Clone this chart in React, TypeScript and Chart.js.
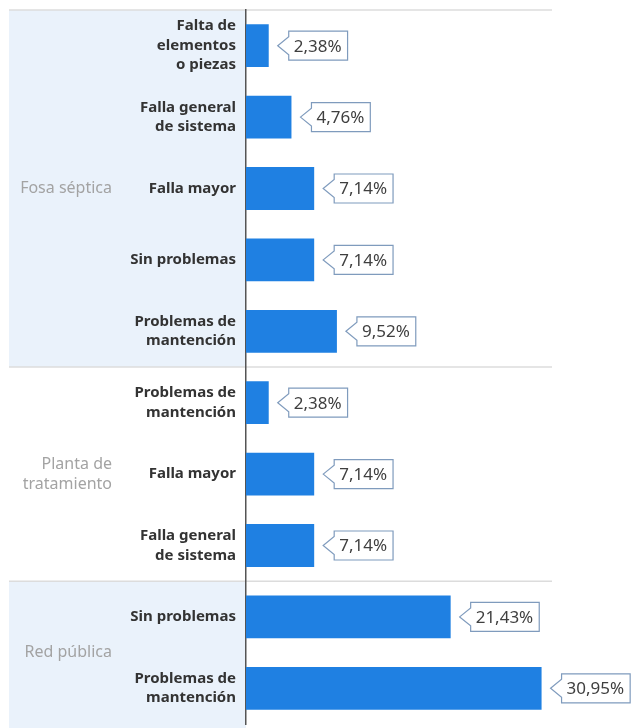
import React, { useEffect, useRef } from "react";
import { Chart, registerables } from "chart.js";

Chart.register(...registerables);

const categories: (string | string[])[] = [
  ["Falta de", "elementos", "o piezas"],
  ["Falla general", "de sistema"],
  "Falla mayor",
  "Sin problemas",
  ["Problemas de", "mantención"],
  ["Problemas de", "mantención"],
  "Falla mayor",
  ["Falla general", "de sistema"],
  "Sin problemas",
  ["Problemas de", "mantención"],
];
const values = [2.38, 4.76, 7.14, 7.14, 9.52, 2.38, 7.14, 7.14, 21.43, 30.95];
const groupNames = [["Fosa séptica"], ["Planta de", "tratamiento"], ["Red pública"]];
const groupSizes = [5, 3, 2];
const groupShaded = [true, false, true];

const FONT = "'Noto Sans', 'Open Sans', sans-serif";

const fmt = (v: number) => v.toFixed(2).replace(".", ",") + "%";

const decorPlugin = {
  id: "decor",
  beforeDraw(chart: any) {
    const ctx = chart.ctx;
    const y = chart.scales.y;
    const area = chart.chartArea;
    const step = y.getPixelForValue(1) - y.getPixelForValue(0);
    let start = 0;
    const bounds: number[] = [];
    ctx.save();
    groupSizes.forEach((n, gi) => {
      const top = y.getPixelForValue(start) - step / 2;
      const bottom = gi === groupSizes.length - 1 ? chart.height : y.getPixelForValue(start + n - 1) + step / 2;
      if (groupShaded[gi]) {
        ctx.fillStyle = "#eaf2fb";
        ctx.fillRect(9, top, area.left - 9, bottom - top);
      }
      bounds.push(top);
      start += n;
    });
    ctx.strokeStyle = "#dcdcdc";
    ctx.lineWidth = 1.5;
    bounds.forEach((b) => {
      ctx.beginPath();
      ctx.moveTo(9, b);
      ctx.lineTo(552, b);
      ctx.stroke();
    });
    ctx.restore();
  },
  afterDatasetsDraw(chart: any) {
    const ctx = chart.ctx;
    const y = chart.scales.y;
    const meta = chart.getDatasetMeta(0);
    const step = y.getPixelForValue(1) - y.getPixelForValue(0);
    ctx.save();
    // value callouts
    ctx.font = `17px ${FONT}`;
    ctx.textBaseline = "middle";
    ctx.textAlign = "left";
    meta.data.forEach((bar: any, i: number) => {
      const text = fmt(values[i]);
      const tip = bar.x + 9;
      const left = tip + 11;
      const w = ctx.measureText(text).width + 11;
      const h = 29;
      const cy = bar.y;
      const t = cy - h / 2;
      ctx.beginPath();
      ctx.moveTo(tip, cy);
      ctx.lineTo(left, cy - 9);
      ctx.lineTo(left, t);
      ctx.lineTo(left + w, t);
      ctx.lineTo(left + w, t + h);
      ctx.lineTo(left, t + h);
      ctx.lineTo(left, cy + 9);
      ctx.closePath();
      ctx.fillStyle = "#ffffff";
      ctx.fill();
      ctx.strokeStyle = "#7f9bbd";
      ctx.lineWidth = 1.2;
      ctx.stroke();
      ctx.fillStyle = "#3f3f3f";
      ctx.fillText(text, left + 5, cy + 1);
    });
    // group labels
    ctx.font = `16px ${FONT}`;
    ctx.fillStyle = "#a3a3a3";
    ctx.textAlign = "right";
    let start = 0;
    groupSizes.forEach((n, gi) => {
      const top = y.getPixelForValue(start) - step / 2;
      const bottom = y.getPixelForValue(start + n - 1) + step / 2;
      const cy = (top + bottom) / 2;
      const lines = groupNames[gi];
      const lh = 20;
      lines.forEach((ln, li) => {
        ctx.fillText(ln, 112, cy + (li - (lines.length - 1) / 2) * lh);
      });
      start += n;
    });
    ctx.restore();
  },
};

export default function App() {
  const ref = useRef<HTMLCanvasElement | null>(null);
  useEffect(() => {
    document.body.style.margin = "0";
    if (!ref.current) return;
    const chart = new Chart(ref.current, {
      type: "bar",
      data: {
        labels: categories as any,
        datasets: [
          {
            data: values,
            backgroundColor: "#1f80e2",
            barPercentage: 0.6,
            categoryPercentage: 1,
          },
        ],
      },
      options: {
        indexAxis: "y",
        animation: false,
        responsive: false,
        layout: { padding: { left: 0, right: 6, top: 10, bottom: 4 } },
        plugins: { legend: { display: false }, tooltip: { enabled: false } },
        scales: {
          x: { display: false, min: 0, max: 40 },
          y: {
            afterFit: (s: any) => {
              s.width = 246;
              s.paddingTop = 0;
              s.paddingBottom = 0;
            },
            grid: { display: false },
            border: { display: true, color: "#555555", width: 1.5 },
            ticks: {
              autoSkip: false,
              padding: 2,
              color: "#333333",
              font: { family: FONT, size: 15, weight: "bold", lineHeight: 1.3 },
            },
          },
        },
      },
      plugins: [decorPlugin],
    });
    return () => chart.destroy();
  }, []);
  return (
    <div style={{ width: 634, height: 728 }}>
      <canvas ref={ref} width={634} height={728} style={{ width: 634, height: 728, display: "block" }} />
    </div>
  );
}
